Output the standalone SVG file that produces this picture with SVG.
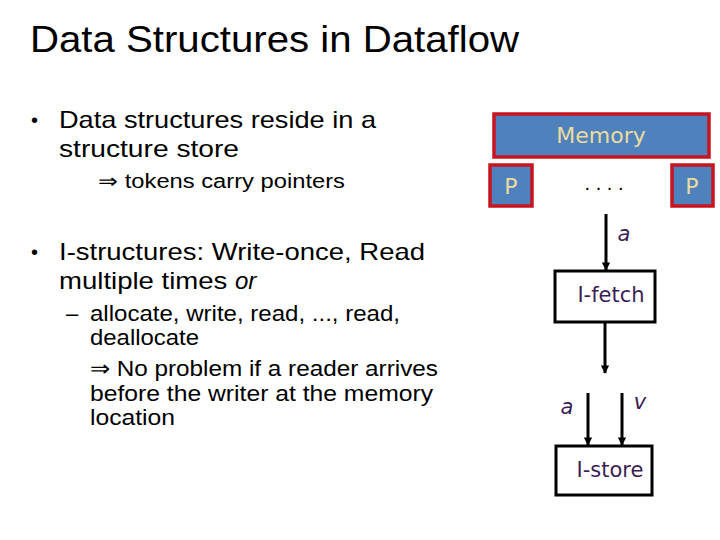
<svg xmlns="http://www.w3.org/2000/svg" width="720" height="540" viewBox="0 0 720 540">
<defs>
<style>
.t{font-family:"Liberation Sans","Open Sans",sans-serif;fill:#000}
.blk{fill:#4f81bd;stroke:#c8141e;stroke-width:3.5}
.bt{font-family:"DejaVu Sans",Verdana,sans-serif;fill:#eadca0;font-size:22px}
.box{fill:#fff;stroke:#000;stroke-width:3}
.pt{font-family:"DejaVu Sans",Verdana,sans-serif;fill:#3a1d55;font-size:21px}
.ln{stroke:#000;stroke-width:3;fill:none}
</style>
<marker id="ah" viewBox="0 0 10 10" refX="9" refY="5" markerWidth="2.8" markerHeight="2.8" orient="auto" markerUnits="strokeWidth">
<path d="M0,0 L10,5 L0,10 z" fill="#000"/>
</marker>
</defs>
<rect width="720" height="540" fill="#fff"/>
<g id="text">
<text class="t" x="30" y="52" font-size="36" textLength="489" lengthAdjust="spacingAndGlyphs">Data Structures in Dataflow</text>
<text class="t" x="31" y="127" font-size="20">•</text>
<text class="t" x="59" y="128" font-size="24" textLength="317" lengthAdjust="spacingAndGlyphs">Data structures reside in a</text>
<text class="t" x="59" y="157" font-size="24" textLength="180" lengthAdjust="spacingAndGlyphs">structure store</text>
<text class="t" x="98" y="188" font-size="20" textLength="247" lengthAdjust="spacingAndGlyphs">⇒ tokens carry pointers</text>
<text class="t" x="31" y="259" font-size="20">•</text>
<text class="t" x="59" y="260" font-size="24" textLength="366" lengthAdjust="spacingAndGlyphs">I-structures: Write-once, Read</text>
<text class="t" x="59" y="289" font-size="24"><tspan textLength="176" lengthAdjust="spacingAndGlyphs">multiple times </tspan><tspan font-style="italic">or</tspan></text>
<text class="t" x="66" y="321" font-size="22">–</text>
<text class="t" x="90" y="321" font-size="22" textLength="310" lengthAdjust="spacingAndGlyphs">allocate, write, read, ..., read,</text>
<text class="t" x="90" y="345" font-size="22" textLength="109" lengthAdjust="spacingAndGlyphs">deallocate</text>
<text class="t" x="90" y="376" font-size="22" textLength="348" lengthAdjust="spacingAndGlyphs">⇒ No problem if a reader arrives</text>
<text class="t" x="90" y="401" font-size="22" textLength="343" lengthAdjust="spacingAndGlyphs">before the writer at the memory</text>
<text class="t" x="90" y="425" font-size="22" textLength="85" lengthAdjust="spacingAndGlyphs">location</text>
</g>
<g id="memory">
<rect class="blk" x="494" y="114" width="215" height="43"/>
<text class="bt" x="601" y="143" text-anchor="middle">Memory</text>
</g>
<g id="p-left">
<rect class="blk" x="490" y="165" width="42" height="41"/>
<text class="bt" x="511" y="194" text-anchor="middle">P</text>
</g>
<g id="dots">
<text class="t" x="604" y="190" font-size="20" text-anchor="middle">. . . .</text>
</g>
<g id="p-right">
<rect class="blk" x="672" y="165" width="41" height="41"/>
<text class="bt" x="692" y="194" text-anchor="middle">P</text>
</g>
<g id="ifetch">
<rect class="box" x="555" y="271" width="100" height="51"/>
<text class="pt" x="611" y="302" text-anchor="middle">I-fetch</text>
</g>
<g id="istore">
<rect class="box" x="556" y="446" width="96" height="49"/>
<text class="pt" x="610" y="477" text-anchor="middle">I-store</text>
</g>
<g id="connectors">
<line class="ln" x1="606" y1="214" x2="606" y2="270" marker-end="url(#ah)"/>
<line class="ln" x1="605" y1="322" x2="605" y2="373" marker-end="url(#ah)"/>
<line class="ln" x1="588" y1="393" x2="588" y2="445" marker-end="url(#ah)"/>
<line class="ln" x1="622" y1="393" x2="622" y2="445" marker-end="url(#ah)"/>
</g>
<g id="labels">
<text class="pt" x="624" y="241" text-anchor="middle" font-style="italic">a</text>
<text class="pt" x="567" y="414" text-anchor="middle" font-style="italic">a</text>
<text class="pt" x="640" y="409" text-anchor="middle" font-style="italic">v</text>
</g>
</svg>
